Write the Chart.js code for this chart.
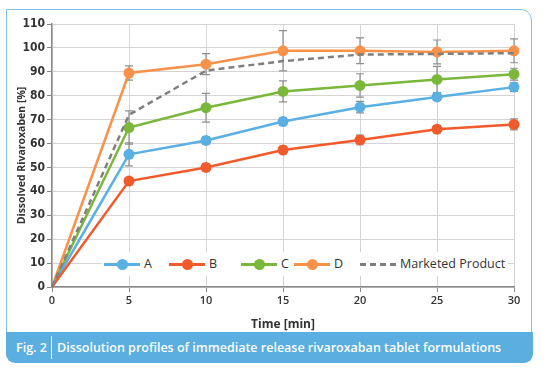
<!DOCTYPE html>
<html>
<head>
<meta charset="utf-8">
<script src="https://cdn.jsdelivr.net/npm/chart.js@4/dist/chart.umd.min.js"></script>
<style>
  html,body{margin:0;padding:0;background:#fff;}
  #wrap{position:relative;width:554px;height:371px;overflow:hidden;}
  #frame{position:absolute;left:6px;top:9px;width:524px;height:351px;border:1.5px solid #7fc0ea;
    border-radius:0 11px 9px 9px;box-sizing:content-box;}
  #caption{position:absolute;left:6px;top:332px;width:527px;height:31px;background:#5aaee0;
    border-radius:0 0 9px 9px;color:#fff;font:600 12.5px "Open Sans",sans-serif;line-height:31px;}
  #caption .fig{position:absolute;left:10px;}
  #caption .sep{position:absolute;left:45px;top:4px;width:1px;height:23px;background:#fff;}
  #caption .txt{position:absolute;left:51px;white-space:nowrap;}
  #c{position:absolute;left:0;top:0;}
  #legend{position:absolute;left:102px;top:252px;width:406px;height:24px;background:#fff;
    font:500 12.5px "Open Sans",sans-serif;color:#333;}
  .li{position:absolute;top:0;height:24px;line-height:24px;white-space:nowrap;}
  .li .ln{position:absolute;top:10.5px;width:36px;height:3px;}
  .li .dt{position:absolute;top:6.5px;left:12.5px;width:11px;height:11px;border-radius:50%;}
  .li .lb{position:absolute;left:40px;}
</style>
</head>
<body>
<div id="wrap">
  <div id="frame"></div>
  <div id="caption"><span class="fig">Fig. 2</span><span class="sep"></span><span class="txt">Dissolution profiles of immediate release rivaroxaban tablet formulations</span></div>
  <canvas id="c" width="554" height="332"></canvas>
  <div id="legend"></div>
</div>
<script>
// time points (min)
var times=[0,5,10,15,20,25,30];
var labels=["A","B","C","D","Marketed Product"];
var colors=["#5aafe3","#f15a2b","#7ab73b","#f8924b","#7f7f7f"];
// dissolved (%)
var valA=[0,55.5,61.3,69.2,75.2,79.5,83.6];
var valB=[0,44.3,50.0,57.3,61.5,66.0,68.0];
var valC=[0,66.7,75.0,81.8,84.3,86.8,89.0];
var valD=[0,89.5,93.2,98.8,98.8,98.3,98.8];
var valM=[0,72.0,90.5,94.5,97.2,97.5,97.8];
// standard deviations
var errA=[0,4.8,1.5,1.5,2.4,1.5,1.8];
var errB=[0,1.5,1.5,1.5,2.0,1.5,2.3];
var errC=[0,7.0,6.0,4.4,4.9,5.5,2.5];
var errD=[0,3.0,4.4,8.4,5.4,5.0,5.0];
var yTicks=[0,10,20,30,40,50,60,70,80,90,100,110];
var xTicks=[0,5,10,15,20,25,30];

function pts(vals){
  return vals.map(function(v,i){return {x:times[i],y:v};});
}

const errorBars={
  id:'errorBars',
  beforeDatasetsDraw(chart){
    const ctx=chart.ctx, xs=chart.scales.x, ys=chart.scales.y;
    ctx.save();
    ctx.strokeStyle='#8e8e8e';
    ctx.lineWidth=1.2;
    chart.data.datasets.forEach(function(ds){
      if(!ds.errors) return;
      ds.data.forEach(function(p,i){
        const e=ds.errors[i];
        if(!e) return;
        const x=xs.getPixelForValue(p.x);
        const t=ys.getPixelForValue(p.y+e), b=ys.getPixelForValue(p.y-e);
        ctx.beginPath();
        ctx.moveTo(x,t);ctx.lineTo(x,b);
        ctx.moveTo(x-4,t);ctx.lineTo(x+4,t);
        ctx.moveTo(x-4,b);ctx.lineTo(x+4,b);
        ctx.stroke();
      });
    });
    ctx.restore();
  }
};

function line(i,vals,errs){
  return {
    label:labels[i],
    data:pts(vals),
    errors:errs,
    borderColor:colors[i],
    backgroundColor:colors[i],
    borderWidth:2.5,
    pointRadius:[0,5.5,5.5,5.5,5.5,5.5,5.5],
    pointBorderWidth:0,
    pointBackgroundColor:colors[i],
    tension:0,
    clip:false
  };
}

var dsM=line(4,valM,null);
dsM.borderDash=[6,4];
dsM.pointRadius=0;

new Chart(document.getElementById('c'),{
  type:'line',
  data:{datasets:[dsM,line(1,valB,errB),line(0,valA,errA),line(2,valC,errC),line(3,valD,errD)]},
  options:{
    responsive:false,
    animation:false,
    layout:{padding:{top:24,right:40,left:0,bottom:0}},
    plugins:{legend:{display:false},tooltip:{enabled:false}},
    scales:{
      x:{
        type:'linear',min:0,max:30,
        afterBuildTicks:function(s){s.ticks=xTicks.map(function(v){return {value:v};});},
        afterFit:function(s){s.height=45;},
        grid:{color:'#d4d4d4',lineWidth:1,tickLength:5,tickColor:'#8a8a8a'},
        border:{color:'#8a8a8a',width:1.5},
        ticks:{color:'#333',padding:2,font:{family:'"Open Sans", sans-serif',size:11,weight:'600'}},
        title:{display:true,text:'Time [min]',color:'#333',padding:{top:0,bottom:0},
          font:{family:'"Open Sans", sans-serif',size:12,weight:'bold'}}
      },
      y:{
        min:0,max:110,
        afterBuildTicks:function(s){s.ticks=yTicks.map(function(v){return {value:v};});},
        afterFit:function(s){s.width=52;},
        grid:{color:'#d4d4d4',lineWidth:1,tickLength:5,tickColor:'#8a8a8a'},
        border:{color:'#8a8a8a',width:1.5},
        ticks:{color:'#333',padding:2,font:{family:'"Liberation Sans Narrow", "DejaVu Sans Condensed", sans-serif',size:12,weight:'bold'}},
        title:{display:true,text:'Dissolved Rivaroxaben [%]',color:'#333',padding:{top:16,bottom:0},
          font:{family:'"Open Sans", sans-serif',size:10.5,weight:'bold'}}
      }
    }
  },
  plugins:[errorBars]
});

// legend overlay
var lg=document.getElementById('legend');
var lefts=[2,67,139,192,258];
labels.forEach(function(t,i){
  var d=document.createElement('div');
  d.className='li';
  d.style.left=lefts[i]+'px';
  var ln=i===4
    ? '<span class="ln" style="background:repeating-linear-gradient(90deg,'+colors[i]+' 0 6px,transparent 6px 10px)"></span>'
    : '<span class="ln" style="background:'+colors[i]+'"></span><span class="dt" style="background:'+colors[i]+'"></span>';
  d.innerHTML=ln+'<span class="lb">'+t+'</span>';
  lg.appendChild(d);
});
</script>
</body>
</html>
